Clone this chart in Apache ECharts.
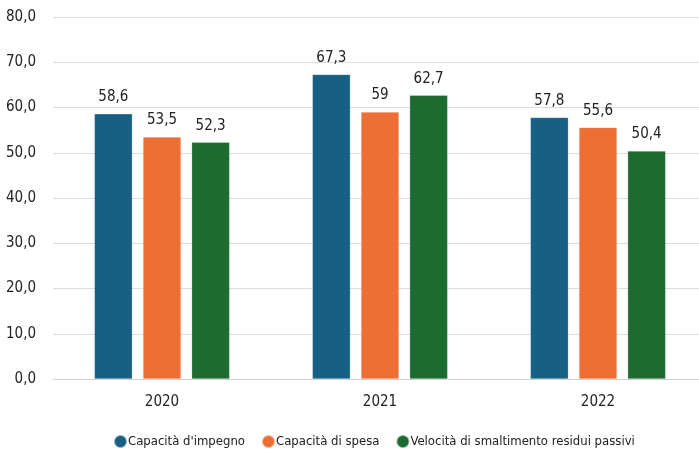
<!DOCTYPE html>
<html><head><meta charset="utf-8">
<script src="https://cdn.jsdelivr.net/npm/echarts@6/dist/echarts.min.js"></script>
<style>html,body{margin:0;padding:0;background:#fff}#c{width:699px;height:451px}</style>
</head><body><div id="c"></div>
<script>
const categories = ['2020', '2021', '2022'];
const seriesNames = ["Capacità d'impegno", 'Capacità di spesa', 'Velocità di smaltimento residui passivi'];
const impegno = [58.6, 67.3, 57.8];
const spesa = [53.5, 59, 55.6];
const velocita = [52.3, 62.7, 50.4];
const colors = ['#175f83', '#ec7035', '#1d6b30'];
const FONT = '"Liberation Sans Narrow", "DejaVu Sans Condensed", sans-serif';
const fmt = v => String(v).replace('.', ',');
const chart = echarts.init(document.getElementById('c'));
const mk = (name, data, i) => ({
  name, type: 'bar', data, barWidth: 38, barGap: '28%',
  itemStyle: { color: colors[i], borderColor: 'rgba(255,255,255,0.5)', borderWidth: 0.5 },
  label: { show: true, position: 'top', distance: 9, color: '#222', fontFamily: FONT, fontSize: 15,
    formatter: p => fmt(p.value) }
});
chart.setOption({
  animation: false,
  textStyle: { fontFamily: FONT },
  grid: { left: 53, top: 17, width: 654, height: 362, containLabel: false, outerBoundsMode: 'none' },
  legend: {
    top: 429, left: 108, itemGap: 16, icon: 'circle', itemWidth: 13, itemHeight: 13,
    textStyle: { fontFamily: FONT, fontSize: 13, color: '#222', padding: [0,0,0,-4] },
    data: seriesNames
  },
  xAxis: {
    type: 'category', data: categories,
    axisLine: { lineStyle: { color: '#d0d0d0', width: 1 } },
    axisTick: { show: false },
    axisLabel: { color: '#222', fontSize: 15, margin: 16, fontFamily: FONT }
  },
  yAxis: {
    type: 'value', min: 0, max: 80, interval: 10,
    axisLine: { show: false }, axisTick: { show: false },
    splitLine: { lineStyle: { color: '#dcdcdc', width: 1 } },
    axisLabel: { color: '#222', fontSize: 15, margin: 17, fontFamily: FONT,
      formatter: v => v.toFixed(1).replace('.', ',') }
  },
  series: [mk(seriesNames[0], impegno, 0), mk(seriesNames[1], spesa, 1), mk(seriesNames[2], velocita, 2)]
});
</script></body></html>
